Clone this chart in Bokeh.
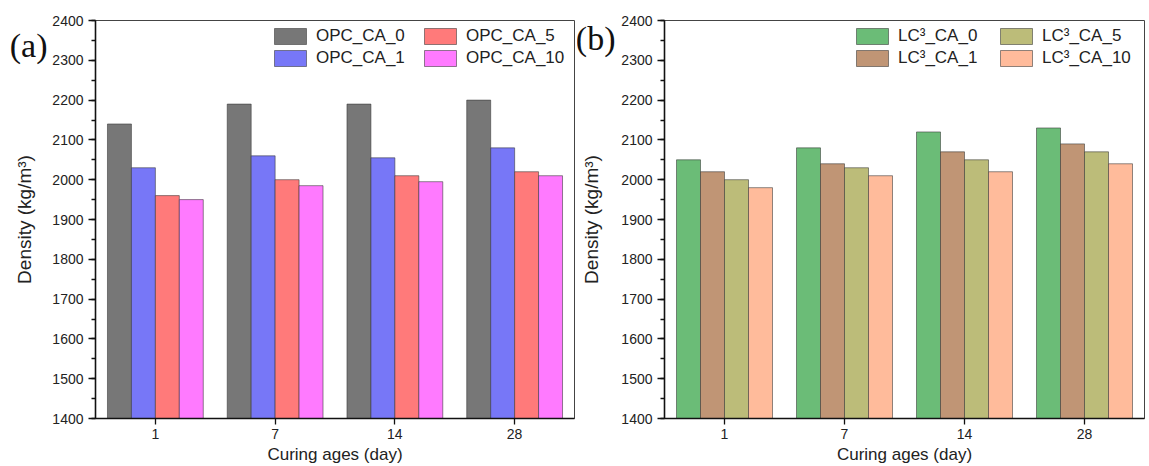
from bokeh.plotting import figure
from bokeh.models import (ColumnDataSource, FactorRange, Range1d, SingleIntervalTicker,
                          FixedTicker, LinearAxis, Legend, LegendItem)
from bokeh.transform import dodge
from bokeh.layouts import row
from bokeh.embed import file_html
from bokeh.resources import INLINE

# ---------------- data ----------------
ages = ["1", "7", "14", "28"]

opc_names = ["OPC_CA_0", "OPC_CA_1", "OPC_CA_5", "OPC_CA_10"]
opc_ca_0 = [2140, 2190, 2190, 2200]
opc_ca_1 = [2030, 2060, 2055, 2080]
opc_ca_5 = [1960, 2000, 2010, 2020]
opc_ca_10 = [1950, 1985, 1995, 2010]

lc3_names = ["LC\u00b3_CA_0", "LC\u00b3_CA_1", "LC\u00b3_CA_5", "LC\u00b3_CA_10"]
lc3_ca_0 = [2050, 2080, 2120, 2130]
lc3_ca_1 = [2020, 2040, 2070, 2090]
lc3_ca_5 = [2000, 2030, 2050, 2070]
lc3_ca_10 = [1980, 2010, 2020, 2040]

opc_colors = ["#777777", "#7777F7", "#FF7A7A", "#FF7AFF"]
lc3_colors = ["#6BBC77", "#C09575", "#BCBC79", "#FFBB9B"]

y_start, y_end = 1400, 2400
x_title = "Curing ages (day)"
y_title = "Density (kg/m\u00b3)"

FONT = "Liberation Sans"


def make_panel(names, series, colors, tag, width, border_left, border_right,
               label_width, tag_y, tag_standoff, ylabel_standoff):
    data = {"age": ages}
    keys = []
    for i, s in enumerate(series):
        k = f"s{i}"
        data[k] = s
        keys.append(k)
    src = ColumnDataSource(data)

    p = figure(x_range=FactorRange(factors=ages), y_range=Range1d(y_start, y_end),
               width=width, height=466, min_border_left=border_left,
               min_border_right=border_right, min_border_top=20, min_border_bottom=0,
               output_backend="svg", toolbar_location=None)
    p.xgrid.visible = False
    p.ygrid.visible = False
    p.outline_line_color = "#444444"
    p.outline_line_width = 1

    offsets = [-0.3, -0.1, 0.1, 0.3]
    renderers = []
    for k, off, c in zip(keys, offsets, colors):
        r = p.vbar(x=dodge("age", off, range=p.x_range), top=k, bottom=y_start,
                   width=0.2, source=src, fill_color=c, line_color="#333333",
                   line_alpha=0.55, line_width=1)
        renderers.append(r)

    # axes
    p.yaxis.ticker = SingleIntervalTicker(interval=100, num_minor_ticks=2)
    for ax in (p.xaxis[0], p.yaxis[0]):
        ax.axis_line_width = 1.6
        ax.axis_line_color = "#111111"
        ax.major_tick_in = 0
        ax.minor_tick_in = 0
        ax.major_tick_line_color = "#111111"
        ax.minor_tick_line_color = "#111111"
        ax.major_tick_line_width = 1.3
        ax.minor_tick_line_width = 1.3
        ax.major_label_text_font = FONT
        ax.major_label_text_font_size = "14px"
        ax.major_label_text_color = "#222222"
        ax.axis_label_text_font = FONT
        ax.axis_label_text_font_style = "normal"
        ax.axis_label_text_color = "#222222"
    p.yaxis.major_tick_out = 7
    p.yaxis.minor_tick_out = 4
    p.yaxis.major_label_standoff = 5
    p.xaxis.major_tick_out = 6
    p.xaxis.major_label_standoff = 4
    p.xaxis.axis_label = x_title
    p.xaxis.axis_label_text_font_size = "17px"
    p.xaxis.axis_label_standoff = 3

    # outer left axis: carries the panel tag and the y title
    tag_axis = LinearAxis(ticker=FixedTicker(ticks=[tag_y]),
                          major_label_overrides={tag_y: tag},
                          axis_label=y_title,
                          axis_line_color=None, major_tick_line_color=None,
                          minor_tick_line_color=None, major_tick_out=0,
                          major_tick_in=0, minor_tick_out=0, minor_tick_in=0,
                          major_label_standoff=tag_standoff,
                          major_label_text_font="Liberation Serif",
                          major_label_text_font_size="34px",
                          major_label_text_color="#111111",
                          axis_label_standoff=ylabel_standoff,
                          axis_label_text_font=FONT,
                          axis_label_text_font_style="normal",
                          axis_label_text_font_size="19px",
                          axis_label_text_color="#222222")
    p.add_layout(tag_axis, "left")

    legend = Legend(items=[LegendItem(label=n, renderers=[r])
                           for n, r in zip(names, renderers)],
                    location="top_right", orientation="vertical", ncols=2,
                    glyph_width=40, glyph_height=20, label_standoff=6,
                    spacing=2, padding=4, margin=2, label_width=label_width,
                    label_text_font=FONT, label_text_font_size="17px",
                    label_text_color="#222222", border_line_alpha=0,
                    background_fill_alpha=0)
    p.add_layout(legend)
    return p


p1 = make_panel(opc_names, [opc_ca_0, opc_ca_1, opc_ca_5, opc_ca_10], opc_colors,
                "(a)", 577, 95, 3, 102, 2337, 2, -28)
p2 = make_panel(lc3_names, [lc3_ca_0, lc3_ca_1, lc3_ca_5, lc3_ca_10], lc3_colors,
                "(b)", 571, 86, 4, 96, 2355, 3, -29)

layout = row(p1, p2)
open("out.html", "w").write(file_html(layout, INLINE))
